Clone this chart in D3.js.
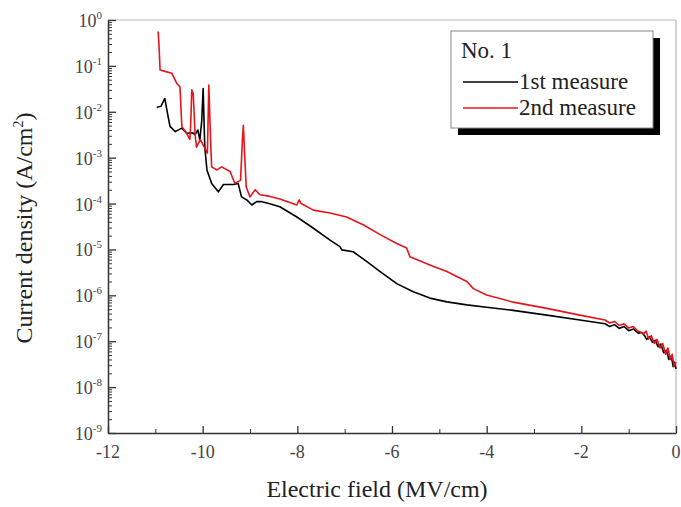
<!doctype html>
<html>
<head>
<meta charset="utf-8">
<script src="https://cdnjs.cloudflare.com/ajax/libs/d3/7.8.5/d3.min.js"></script>
<style>
  body { margin: 0; background: #fff; }
  svg { display: block; }
  text { font-family: "Liberation Serif", "DejaVu Serif", serif; }
</style>
</head>
<body>
<svg width="681" height="507"></svg>
<script>
// field (MV/cm) and current density (A/cm2)
var field1 = [-10.97, -10.88, -10.80, -10.74, -10.69, -10.58, -10.44, -10.34, -10.22, -10.16, -10.10, -10.06, -10.02, -9.99, -9.96, -9.95,
  -9.91, -9.81, -9.67, -9.56, -9.35, -9.25, -9.18, -9.07, -8.96, -8.86, -8.75, -8.60, -8.37, -8.01, -7.66, -7.31, -7.10, -7.06,
  -6.82, -6.53, -6.25, -5.90, -5.55, -5.20, -4.84, -4.42, -4.00, -3.44, -2.73, -2.03, -1.50, -1.40, -1.30, -1.20, -1.10, -1.00, -0.90, -0.80,
  -0.72, -0.66, -0.62, -0.56, -0.50, -0.44, -0.38, -0.32, -0.26, -0.20, -0.15, -0.10, -0.06, -0.03, 0];
var density1 = [1.26e-2, 1.32e-2, 1.95e-2, 8.9e-3, 4.8e-3, 3.7e-3, 4.4e-3, 3.4e-3, 3.5e-3, 3.2e-3, 4.0e-3, 2.4e-3, 6.3e-3, 3.2e-2, 2.5e-3, 1.5e-3,
  5.4e-4, 2.75e-4, 1.8e-4, 2.6e-4, 2.6e-4, 2.75e-4, 1.4e-4, 1.2e-4, 9.3e-5, 1.1e-4, 1.1e-4, 1.0e-4, 8.5e-5, 5.1e-5, 2.9e-5, 1.6e-5, 1.15e-5, 9.8e-6,
  8.9e-6, 5.4e-6, 3.3e-6, 1.8e-6, 1.2e-6, 8.7e-7, 7.2e-7, 6.2e-7, 5.5e-7, 4.7e-7, 3.7e-7, 2.9e-7, 2.4e-7, 2.1e-7, 2.3e-7, 1.9e-7, 2.1e-7, 1.7e-7, 1.85e-7, 1.5e-7,
  1.55e-7, 1.3e-7, 1.1e-7, 1.26e-7, 9.5e-8, 1.05e-7, 7.6e-8, 8.7e-8, 5.6e-8, 6.3e-8, 4.0e-8, 4.8e-8, 2.8e-8, 3.5e-8, 2.5e-8];

var field2 = [-10.94, -10.92, -10.90, -10.80, -10.65, -10.55, -10.48, -10.44, -10.34, -10.27, -10.25, -10.23, -10.20, -10.16, -10.13, -10.05,
  -9.98, -9.95, -9.90, -9.87, -9.84, -9.81, -9.70, -9.60, -9.42, -9.32, -9.20, -9.16, -9.14, -9.11, -9.08, -9.00, -8.89, -8.79, -8.60,
  -8.37, -8.01, -7.96, -7.92, -7.66, -7.31, -6.96, -6.60, -6.25, -5.90, -5.69, -5.62, -5.20, -4.84, -4.42, -4.28, -4.00, -3.44, -2.73,
  -2.03, -1.50, -1.40, -1.30, -1.20, -1.10, -1.00, -0.90, -0.82, -0.76, -0.68, -0.63, -0.58, -0.52, -0.46, -0.40, -0.34, -0.28, -0.22, -0.17, -0.12, -0.08, -0.04, 0];
var density2 = [5.6e-1, 2.5e-1, 8.1e-2, 7.6e-2, 6.9e-2, 4.2e-2, 3.5e-2, 4.8e-3, 3.4e-3, 2.5e-3, 6.3e-3, 3.0e-2, 2.5e-2, 3.2e-3, 1.7e-3, 2.5e-3,
  1.8e-3, 1.6e-3, 1.26e-3, 3.8e-2, 4.0e-3, 6.3e-4, 5.4e-4, 6.3e-4, 5.0e-4, 2.75e-4, 3.2e-4, 2.5e-3, 5.1e-3, 1.0e-3, 2.3e-4, 1.4e-4, 2.0e-4, 1.55e-4, 1.45e-4,
  1.26e-4, 9.3e-5, 1.2e-4, 1.0e-4, 7.2e-5, 6.2e-5, 5.1e-5, 3.4e-5, 2.1e-5, 1.35e-5, 1.07e-5, 6.9e-6, 4.6e-6, 3.3e-6, 2.0e-6, 1.4e-6, 1.02e-6, 7.1e-7, 5.2e-7,
  3.7e-7, 2.9e-7, 2.5e-7, 2.7e-7, 2.2e-7, 2.4e-7, 1.95e-7, 2.1e-7, 1.7e-7, 1.6e-7, 1.45e-7, 1.66e-7, 1.12e-7, 1.32e-7, 8.9e-8, 1.1e-7, 7.1e-8, 8.9e-8, 5.2e-8, 7.1e-8, 4.0e-8, 5.2e-8, 2.8e-8, 3.5e-8];

var xTicks = [-12, -10, -8, -6, -4, -2, 0];
var xMinor = [-11, -9, -7, -5, -3, -1];
var yExps = [0, -1, -2, -3, -4, -5, -6, -7, -8, -9];
var seriesNames = ["1st measure", "2nd measure"];
var seriesColors = ["#000000", "#e8141c"];

var svg = d3.select("svg");
var plotL = 108, plotR = 676, plotT = 20, plotB = 433;

var x = d3.scaleLinear().domain([-12, 0]).range([plotL, plotR]);
var y = d3.scaleLog().domain([1e-9, 1]).range([plotB, plotT]);

// frame
svg.append("line").attr("x1", plotL).attr("x2", plotR).attr("y1", plotT).attr("y2", plotT)
  .attr("stroke", "#bbb").attr("stroke-width", 1);
svg.append("line").attr("x1", plotR).attr("x2", plotR).attr("y1", plotT).attr("y2", plotB)
  .attr("stroke", "#aaa").attr("stroke-width", 1);

// bottom axis, ticks inside
var gx = svg.append("g").attr("transform", "translate(0," + plotB + ")")
  .call(d3.axisBottom(x).tickValues(xTicks).tickSizeInner(-7).tickSizeOuter(0).tickFormat(""));
gx.select(".domain").attr("stroke", "#333").attr("stroke-width", 1.5);
gx.selectAll(".tick line").attr("stroke", "#333").attr("stroke-width", 1.3);
svg.append("g").attr("transform", "translate(0," + plotB + ")")
  .call(d3.axisBottom(x).tickValues(xMinor).tickSizeInner(-4).tickSizeOuter(0).tickFormat(""))
  .call(function (g) { g.select(".domain").remove(); g.selectAll("line").attr("stroke", "#333"); });

svg.selectAll(".xlab").data(xTicks).enter().append("text")
  .attr("class", "xlab")
  .attr("x", function (d) { return x(d); })
  .attr("y", 458)
  .attr("text-anchor", "middle")
  .attr("font-size", 18)
  .attr("fill", "#444")
  .text(function (d) { return d; });

// left axis, ticks inside
var majorY = yExps.map(function (e) { return Math.pow(10, e); });
var minorY = [];
yExps.slice(0, -1).forEach(function (e) {
  for (var k = 2; k < 10; k++) minorY.push(k * Math.pow(10, e - 1));
});
var gy = svg.append("g").attr("transform", "translate(" + plotL + ",0)")
  .call(d3.axisLeft(y).tickValues(majorY).tickSizeInner(-8).tickSizeOuter(0).tickFormat(""));
gy.select(".domain").attr("stroke", "#333").attr("stroke-width", 1.5);
gy.selectAll(".tick line").attr("stroke", "#333").attr("stroke-width", 1.3);
svg.append("g").attr("transform", "translate(" + plotL + ",0)")
  .call(d3.axisLeft(y).tickValues(minorY).tickSizeInner(-4).tickSizeOuter(0).tickFormat(""))
  .call(function (g) { g.select(".domain").remove(); g.selectAll("line").attr("stroke", "#333"); });

var yl = svg.selectAll(".ylab").data(yExps).enter().append("text")
  .attr("class", "ylab")
  .attr("x", 102)
  .attr("y", function (d) { return y(Math.pow(10, d)) + 7; })
  .attr("text-anchor", "end")
  .attr("font-size", 18)
  .attr("fill", "#444");
yl.append("tspan").text("10");
yl.append("tspan").attr("dy", -8).attr("font-size", 11).text(function (d) { return d; });

// axis titles
svg.append("text")
  .attr("x", 377).attr("y", 497)
  .attr("text-anchor", "middle")
  .attr("font-size", 24)
  .attr("fill", "#222")
  .text("Electric field (MV/cm)");

var yt = svg.append("text")
  .attr("transform", "translate(32,228) rotate(-90)")
  .attr("text-anchor", "middle")
  .attr("font-size", 24)
  .attr("fill", "#222");
yt.append("tspan").text("Current density (A/cm");
yt.append("tspan").attr("dy", -9).attr("font-size", 14).text("2");
yt.append("tspan").attr("dy", 9).text(")");

// curves
var line = d3.line()
  .x(function (d) { return x(d[0]); })
  .y(function (d) { return y(d[1]); });

var series = [d3.zip(field1, density1), d3.zip(field2, density2)];
series.forEach(function (s, i) {
  svg.append("path")
    .datum(s)
    .attr("fill", "none")
    .attr("stroke", seriesColors[i])
    .attr("stroke-width", 1.6)
    .attr("stroke-linejoin", "round")
    .attr("d", line);
});

// legend with drop shadow
var lg = svg.append("g");
lg.append("rect").attr("x", 458).attr("y", 38).attr("width", 202).attr("height", 97).attr("fill", "#000");
lg.append("rect").attr("x", 451).attr("y", 31).attr("width", 202).attr("height", 97)
  .attr("fill", "#fff").attr("stroke", "#888").attr("stroke-width", 1);
lg.append("text").attr("x", 461).attr("y", 58).attr("font-size", 23).attr("fill", "#222").text("No. 1");
seriesNames.forEach(function (name, i) {
  var ly = 82 + i * 26;
  lg.append("line").attr("x1", 463).attr("x2", 518).attr("y1", ly).attr("y2", ly)
    .attr("stroke", seriesColors[i]).attr("stroke-width", 1.6);
  lg.append("text").attr("x", 519).attr("y", ly + 7).attr("font-size", 23).attr("fill", "#222").text(name);
});
</script>
</body>
</html>
